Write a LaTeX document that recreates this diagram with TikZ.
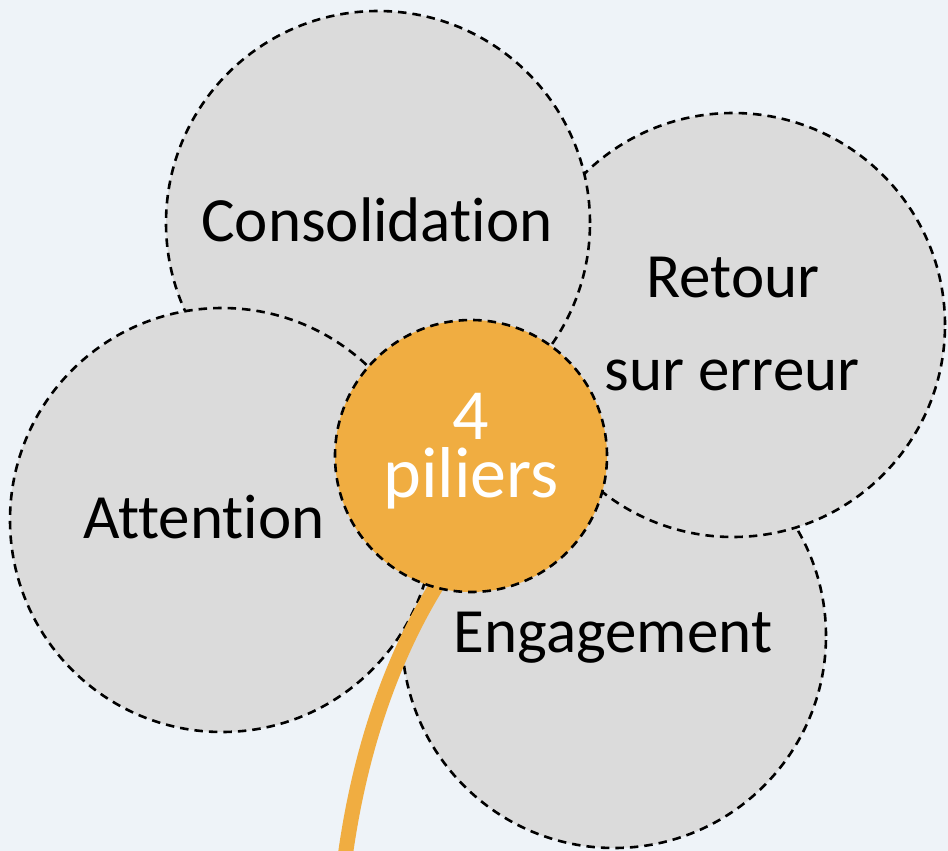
\documentclass[tikz,border=0pt]{standalone}
\usepackage{fontspec}
\setmainfont{Carlito}[Ligatures={NoCommon,NoContextual,NoRequired},RawFeature={-liga;-clig;-calt;-dlig}]
\definecolor{bgblue}{HTML}{EEF3F8}
\definecolor{petalgrey}{HTML}{DBDBDB}
\definecolor{coreorange}{HTML}{F0AD41}
% keep t and i as separate glyphs
\newcommand{\septi}{t\kern0pt i}
\begin{document}
\begin{tikzpicture}[x=1pt,y=-1pt,
  petal/.style={circle, fill=petalgrey, draw=black, line width=2.6pt,
    dash pattern=on 8.5pt off 6pt, minimum size=424pt, inner sep=0pt},
  core/.style={circle, fill=coreorange, draw=black, line width=2.6pt,
    dash pattern=on 8.5pt off 6pt, minimum size=272pt, inner sep=0pt},
  label/.style={anchor=base, inner sep=0pt, font=\fontsize{63}{63}\selectfont, text=black},
  corelabel/.style={anchor=base, inner sep=0pt, align=center,
    font=\fontsize{72}{58}\selectfont, text=white},
  stem/.style={draw=coreorange, line width=15pt}]
  \fill[bgblue] (0,0) rectangle (948,851);
  \useasboundingbox (0,0) rectangle (948,851);

  % petals, back to front
  \node[petal] (eng) at (614,636) {};
  \node[petal] (ret) at (733,325) {};
  \node[petal] (con) at (378,223) {};
  \node[petal] (att) at (222,520) {};

  % stem
  \coordinate (stemend) at (344,865);
  \draw[stem] (437,585) .. controls (398,648) and (360,740) .. (stemend);

  % heart of the flower
  \node[core] (heart) at (471,456) {};

  % texts
  \node[label] (tcon) at (377,241) {Consolida\septi on};
  \node[label] (tret1) at (733,297) {Retour};
  \node[label] (tret2) at (732,390) {sur erreur};
  \node[label] (tatt) at (204,538) {Atten\septi on};
  \node[label] (teng) at (613,652) {Engagement};
  \node[corelabel] (tcore) at (471,497) {4\\piliers};
\end{tikzpicture}
\end{document}
